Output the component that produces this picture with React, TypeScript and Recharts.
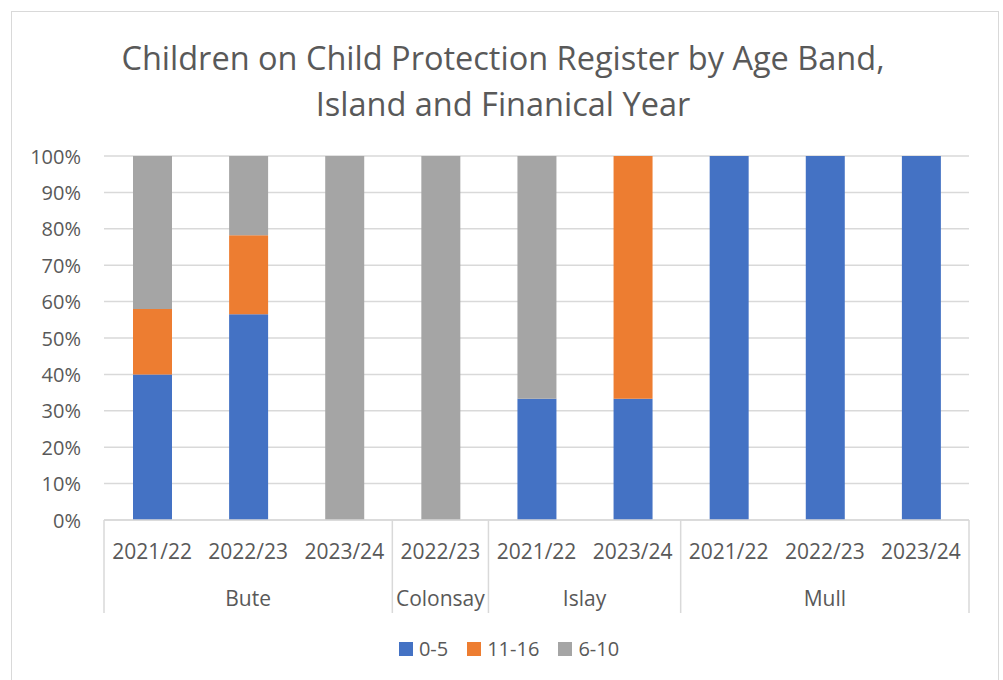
import { BarChart, Bar, XAxis, YAxis, CartesianGrid } from 'recharts'

const categories = ['2021/22', '2022/23', '2023/24', '2022/23', '2021/22', '2023/24', '2021/22', '2022/23', '2023/24']
const islands = ['Bute', 'Bute', 'Bute', 'Colonsay', 'Islay', 'Islay', 'Mull', 'Mull', 'Mull']
const age0to5 = [40, 56.5, 0, 0, 33.3, 33.3, 100, 100, 100]
const age11to16 = [18, 21.7, 0, 0, 0, 66.7, 0, 0, 0]
const age6to10 = [42, 21.8, 100, 100, 66.7, 0, 0, 0, 0]
const yTicks = [0, 0.1, 0.2, 0.3, 0.4, 0.5, 0.6, 0.7, 0.8, 0.9, 1]

const series = [
  { key: 'a', name: '0-5', color: '#4472C4' },
  { key: 'b', name: '11-16', color: '#ED7D31' },
  { key: 'c', name: '6-10', color: '#A5A5A5' },
]

const data = categories.map((year, i) => ({
  year,
  island: islands[i],
  a: age0to5[i],
  b: age11to16[i],
  c: age6to10[i],
}))

const W = 1003
const H = 680
const Y_W = 104
const M_RIGHT = 34
const band = (W - Y_W - M_RIGHT) / categories.length
const FONT = '"Open Sans", sans-serif'
const TEXT = '#595959'

function YTick({ y, payload }: any) {
  return (
    <text x={81} y={y} textAnchor="end" dominantBaseline="central" fontSize={20} fontFamily={FONT} fill={TEXT}>
      {Math.round(payload.value * 100)}%
    </text>
  )
}

function XTick({ x, y, payload }: any) {
  const i = payload.index
  const isl = islands[i]
  const first = i === 0 || islands[i - 1] !== isl
  const last = i === islands.length - 1
  let count = 0
  if (first) {
    for (let j = i; j < islands.length && islands[j] === isl; j++) count++
  }
  return (
    <g>
      <text x={x} y={y + 31} textAnchor="middle" dominantBaseline="central" fontSize={21} fontFamily={FONT} fill={TEXT}>
        {payload.value}
      </text>
      {first && (
        <>
          <line x1={x - band / 2} x2={x - band / 2} y1={y} y2={y + 93} stroke="#d9d9d9" strokeWidth={1.5} />
          <text x={x + ((count - 1) * band) / 2} y={y + 78} textAnchor="middle" dominantBaseline="central" fontSize={21} fontFamily={FONT} fill={TEXT}>
            {isl}
          </text>
        </>
      )}
      {last && <line x1={x + band / 2} x2={x + band / 2} y1={y} y2={y + 93} stroke="#d9d9d9" strokeWidth={1.5} />}
    </g>
  )
}

export default function App() {
  return (
    <div style={{ position: 'absolute', left: 0, top: 0, width: W, height: H, overflow: 'hidden', background: '#fff', fontFamily: FONT }}>
      <div style={{ position: 'absolute', left: 11, top: 11, width: 986, height: 720, border: '1.5px solid #d9d9d9' }} />
      <div style={{ position: 'absolute', left: 0, top: 35, width: 1006, textAlign: 'center', fontSize: 32.5, lineHeight: '46px', color: TEXT }}>
        Children on Child Protection Register by Age Band,
        <br />
        Island and Finanical Year
      </div>
      <div style={{ position: 'absolute', left: 0, top: 0 }}>
        <BarChart width={W} height={H} data={data} stackOffset="expand" margin={{ top: 156, right: M_RIGHT, left: 0, bottom: 60 }}>
          <CartesianGrid vertical={false} stroke="#d9d9d9" strokeWidth={1.5} />
          <XAxis dataKey="year" height={100} interval={0} tickLine={false} tickSize={0} tickMargin={0} axisLine={{ stroke: '#d9d9d9', strokeWidth: 1.5 }} tick={<XTick />} />
          <YAxis width={Y_W} domain={[0, 1]} ticks={yTicks} axisLine={false} tickLine={false} tick={<YTick />} />
          {series.map((s) => (
            <Bar key={s.key} dataKey={s.key} name={s.name} stackId="s" fill={s.color} barSize={39} isAnimationActive={false} />
          ))}
        </BarChart>
      </div>
      <div style={{ position: 'absolute', left: 0, top: 636, width: 1018, display: 'flex', justifyContent: 'center', gap: 19, fontSize: 20, color: TEXT }}>
        {series.map((s) => (
          <div key={s.key} style={{ display: 'flex', alignItems: 'center', gap: 6 }}>
            <span style={{ width: 14, height: 14, background: s.color, display: 'inline-block' }} />
            <span style={{ lineHeight: '26px' }}>{s.name}</span>
          </div>
        ))}
      </div>
    </div>
  )
}
